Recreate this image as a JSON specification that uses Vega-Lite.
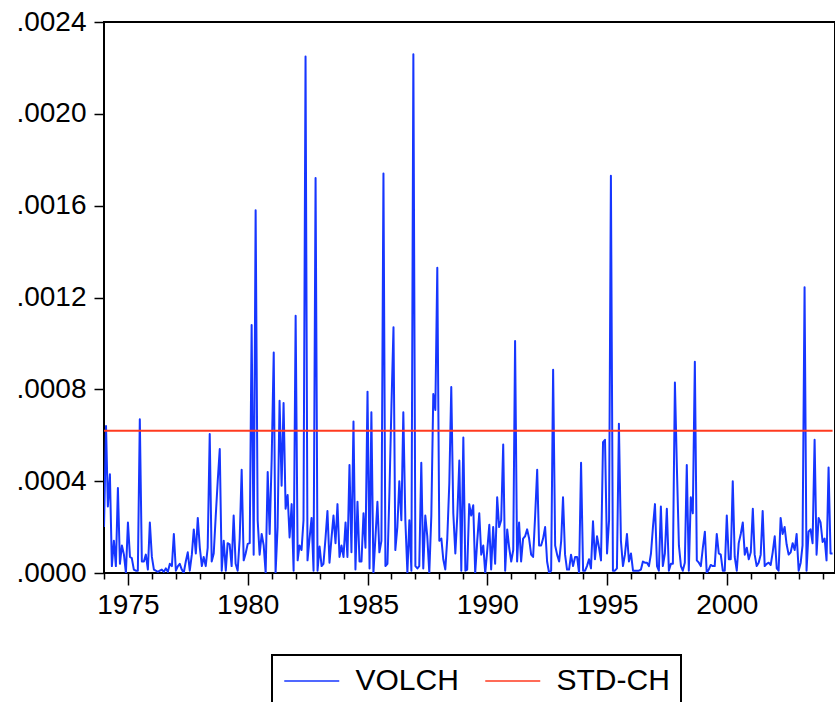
{
 "$schema": "https://vega.github.io/schema/vega-lite/v6.json",
 "width": 731, "height": 551,
 "autosize": {"type": "none"},
 "padding": {"left": 104, "top": 22, "right": 0, "bottom": 129},
 "background": "white",
 "config": {"view": {"stroke": "#000", "strokeWidth": 2}, "font": "Liberation Sans", "axis": {"labelOverlap": false}},
 "datasets": {
  "volch": [
   {"d":"1974-01","v":0.0002},{"d":"1974-02","v":0.00064},{"d":"1974-03","v":0.00029},{"d":"1974-04","v":0.00043},{"d":"1974-05","v":0.00003},{"d":"1974-06","v":0.00014},{"d":"1974-07","v":0.00003},{"d":"1974-08","v":0.00037},{"d":"1974-09","v":0.00004},{"d":"1974-10","v":0.00012},{"d":"1974-11","v":0.00008},{"d":"1974-12","v":0.0},
   {"d":"1975-01","v":0.00022},{"d":"1975-02","v":0.00007},{"d":"1975-03","v":0.000065},{"d":"1975-04","v":0.000015},{"d":"1975-05","v":0.00001},{"d":"1975-06","v":0.00001},{"d":"1975-07","v":0.00067},{"d":"1975-08","v":0.00005},{"d":"1975-09","v":0.00005},{"d":"1975-10","v":0.00008},{"d":"1975-11","v":0.000015},{"d":"1975-12","v":0.00022},
   {"d":"1976-01","v":0.00007},{"d":"1976-02","v":0.000015},{"d":"1976-03","v":0.00001},{"d":"1976-04","v":0.000005},{"d":"1976-05","v":0.00001},{"d":"1976-06","v":0.000015},{"d":"1976-07","v":0.000005},{"d":"1976-08","v":0.00002},{"d":"1976-09","v":0.000005},{"d":"1976-10","v":0.00004},{"d":"1976-11","v":0.00003},{"d":"1976-12","v":0.00017},
   {"d":"1977-01","v":0.00001},{"d":"1977-02","v":0.00003},{"d":"1977-03","v":0.00004},{"d":"1977-04","v":0.000015},{"d":"1977-05","v":0.0},{"d":"1977-06","v":0.00005},{"d":"1977-07","v":0.00009},{"d":"1977-08","v":0.00001},{"d":"1977-09","v":0.00008},{"d":"1977-10","v":0.00019},{"d":"1977-11","v":0.000085},{"d":"1977-12","v":0.00024},
   {"d":"1978-01","v":0.00011},{"d":"1978-02","v":0.00003},{"d":"1978-03","v":0.00007},{"d":"1978-04","v":0.00003},{"d":"1978-05","v":0.00011},{"d":"1978-06","v":0.000605},{"d":"1978-07","v":0.00005},{"d":"1978-08","v":0.000085},{"d":"1978-09","v":0.00025},{"d":"1978-10","v":0.0004},{"d":"1978-11","v":0.00054},{"d":"1978-12","v":0.00001},
   {"d":"1979-01","v":0.00014},{"d":"1979-02","v":0.00001},{"d":"1979-03","v":0.00013},{"d":"1979-04","v":0.000125},{"d":"1979-05","v":0.00003},{"d":"1979-06","v":0.00025},{"d":"1979-07","v":0.00004},{"d":"1979-08","v":0.00001},{"d":"1979-09","v":0.00015},{"d":"1979-10","v":0.00045},{"d":"1979-11","v":0.000055},{"d":"1979-12","v":0.000085},
   {"d":"1980-01","v":0.000127},{"d":"1980-02","v":0.00013},{"d":"1980-03","v":0.00108},{"d":"1980-04","v":0.00008},{"d":"1980-05","v":0.00158},{"d":"1980-06","v":0.00023},{"d":"1980-07","v":0.00008},{"d":"1980-08","v":0.00017},{"d":"1980-09","v":0.00012},{"d":"1980-10","v":0.0},{"d":"1980-11","v":0.00044},{"d":"1980-12","v":0.00017},
   {"d":"1981-01","v":0.0005},{"d":"1981-02","v":0.00096},{"d":"1981-03","v":0.0},{"d":"1981-04","v":0.0002},{"d":"1981-05","v":0.00075},{"d":"1981-06","v":0.00038},{"d":"1981-07","v":0.00074},{"d":"1981-08","v":0.00028},{"d":"1981-09","v":0.00034},{"d":"1981-10","v":0.000155},{"d":"1981-11","v":0.0003},{"d":"1981-12","v":0.00001},
   {"d":"1982-01","v":0.00112},{"d":"1982-02","v":0.000055},{"d":"1982-03","v":0.00012},{"d":"1982-04","v":0.0001},{"d":"1982-05","v":0.00023},{"d":"1982-06","v":0.00225},{"d":"1982-07","v":0.000055},{"d":"1982-08","v":0.00015},{"d":"1982-09","v":0.00024},{"d":"1982-10","v":0.00001},{"d":"1982-11","v":0.00172},{"d":"1982-12","v":0.00001},
   {"d":"1983-01","v":0.000115},{"d":"1983-02","v":0.00003},{"d":"1983-03","v":0.00004},{"d":"1983-04","v":0.00015},{"d":"1983-05","v":0.00027},{"d":"1983-06","v":0.000045},{"d":"1983-07","v":0.00015},{"d":"1983-08","v":0.00025},{"d":"1983-09","v":0.00013},{"d":"1983-10","v":0.0003},{"d":"1983-11","v":0.00007},{"d":"1983-12","v":0.00012},
   {"d":"1984-01","v":0.00007},{"d":"1984-02","v":0.00022},{"d":"1984-03","v":0.00007},{"d":"1984-04","v":0.00047},{"d":"1984-05","v":0.00009},{"d":"1984-06","v":0.00066},{"d":"1984-07","v":0.000015},{"d":"1984-08","v":0.00031},{"d":"1984-09","v":0.00005},{"d":"1984-10","v":0.00005},{"d":"1984-11","v":0.00026},{"d":"1984-12","v":0.00011},
   {"d":"1985-01","v":0.00079},{"d":"1985-02","v":0.00002},{"d":"1985-03","v":0.0007},{"d":"1985-04","v":0.0},{"d":"1985-05","v":0.00015},{"d":"1985-06","v":0.00031},{"d":"1985-07","v":0.00009},{"d":"1985-08","v":0.00014},{"d":"1985-09","v":0.00174},{"d":"1985-10","v":0.00003},{"d":"1985-11","v":0.00004},{"d":"1985-12","v":0.00035},
   {"d":"1986-01","v":0.00073},{"d":"1986-02","v":0.00107},{"d":"1986-03","v":0.0001},{"d":"1986-04","v":0.0002},{"d":"1986-05","v":0.0004},{"d":"1986-06","v":0.00023},{"d":"1986-07","v":0.0007},{"d":"1986-08","v":0.00023},{"d":"1986-09","v":0.0},{"d":"1986-10","v":0.00023},{"d":"1986-11","v":0.00001},{"d":"1986-12","v":0.00226},
   {"d":"1987-01","v":0.00003},{"d":"1987-02","v":0.00002},{"d":"1987-03","v":0.00003},{"d":"1987-04","v":0.00048},{"d":"1987-05","v":0.00002},{"d":"1987-06","v":0.00025},{"d":"1987-07","v":0.00016},{"d":"1987-08","v":0.0},{"d":"1987-09","v":0.00025},{"d":"1987-10","v":0.00078},{"d":"1987-11","v":0.00071},{"d":"1987-12","v":0.00133},
   {"d":"1988-01","v":0.00014},{"d":"1988-02","v":0.00015},{"d":"1988-03","v":0.00006},{"d":"1988-04","v":0.000015},{"d":"1988-05","v":0.00015},{"d":"1988-06","v":0.00039},{"d":"1988-07","v":0.00081},{"d":"1988-08","v":0.00026},{"d":"1988-09","v":0.000085},{"d":"1988-10","v":0.00025},{"d":"1988-11","v":0.00049},{"d":"1988-12","v":0.00001},
   {"d":"1989-01","v":0.00059},{"d":"1989-02","v":0.00001},{"d":"1989-03","v":0.000015},{"d":"1989-04","v":0.0003},{"d":"1989-05","v":0.00025},{"d":"1989-06","v":0.000295},{"d":"1989-07","v":0.0},{"d":"1989-08","v":0.00014},{"d":"1989-09","v":0.00026},{"d":"1989-10","v":0.00008},{"d":"1989-11","v":0.00012},{"d":"1989-12","v":0.0},
   {"d":"1990-01","v":0.0001},{"d":"1990-02","v":0.00021},{"d":"1990-03","v":0.000015},{"d":"1990-04","v":0.0002},{"d":"1990-05","v":0.00004},{"d":"1990-06","v":0.00033},{"d":"1990-07","v":0.0002},{"d":"1990-08","v":0.00023},{"d":"1990-09","v":0.00056},{"d":"1990-10","v":0.00001},{"d":"1990-11","v":0.00019},{"d":"1990-12","v":0.00011},
   {"d":"1991-01","v":0.00005},{"d":"1991-02","v":0.0001},{"d":"1991-03","v":0.00101},{"d":"1991-04","v":0.00005},{"d":"1991-05","v":0.00022},{"d":"1991-06","v":0.00005},{"d":"1991-07","v":0.00015},{"d":"1991-08","v":0.00016},{"d":"1991-09","v":0.00019},{"d":"1991-10","v":0.00015},{"d":"1991-11","v":0.00008},{"d":"1991-12","v":0.00007},
   {"d":"1992-01","v":0.00025},{"d":"1992-02","v":0.00045},{"d":"1992-03","v":0.00012},{"d":"1992-04","v":0.00012},{"d":"1992-05","v":0.00015},{"d":"1992-06","v":0.0002},{"d":"1992-07","v":0.00005},{"d":"1992-08","v":0.0},{"d":"1992-09","v":0.00001},{"d":"1992-10","v":0.000885},{"d":"1992-11","v":0.00012},{"d":"1992-12","v":0.00008},
   {"d":"1993-01","v":0.00005},{"d":"1993-02","v":0.00014},{"d":"1993-03","v":0.00033},{"d":"1993-04","v":0.00008},{"d":"1993-05","v":0.000015},{"d":"1993-06","v":0.000015},{"d":"1993-07","v":0.00008},{"d":"1993-08","v":0.00003},{"d":"1993-09","v":0.00007},{"d":"1993-10","v":0.00007},{"d":"1993-11","v":0.0},{"d":"1993-12","v":0.00048},
   {"d":"1994-01","v":0.00001},{"d":"1994-02","v":0.00001},{"d":"1994-03","v":0.00003},{"d":"1994-04","v":0.00006},{"d":"1994-05","v":0.00002},{"d":"1994-06","v":0.000225},{"d":"1994-07","v":0.00006},{"d":"1994-08","v":0.00016},{"d":"1994-09","v":0.00011},{"d":"1994-10","v":0.000055},{"d":"1994-11","v":0.00057},{"d":"1994-12","v":0.00058},
   {"d":"1995-01","v":0.000085},{"d":"1995-02","v":0.00023},{"d":"1995-03","v":0.00173},{"d":"1995-04","v":0.00001},{"d":"1995-05","v":0.00001},{"d":"1995-06","v":0.00002},{"d":"1995-07","v":0.00065},{"d":"1995-08","v":0.00014},{"d":"1995-09","v":0.00003},{"d":"1995-10","v":0.00008},{"d":"1995-11","v":0.00017},{"d":"1995-12","v":0.00005},
   {"d":"1996-01","v":0.000085},{"d":"1996-02","v":0.00001},{"d":"1996-03","v":0.00001},{"d":"1996-04","v":0.00001},{"d":"1996-05","v":0.00001},{"d":"1996-06","v":0.000015},{"d":"1996-07","v":0.00005},{"d":"1996-08","v":0.000045},{"d":"1996-09","v":0.000045},{"d":"1996-10","v":0.00003},{"d":"1996-11","v":0.000085},{"d":"1996-12","v":0.0002},
   {"d":"1997-01","v":0.0003},{"d":"1997-02","v":0.00003},{"d":"1997-03","v":0.00001},{"d":"1997-04","v":0.00029},{"d":"1997-05","v":0.00003},{"d":"1997-06","v":0.000085},{"d":"1997-07","v":0.00028},{"d":"1997-08","v":0.00001},{"d":"1997-09","v":0.00004},{"d":"1997-10","v":0.00004},{"d":"1997-11","v":0.00083},{"d":"1997-12","v":0.00046},
   {"d":"1998-01","v":0.00012},{"d":"1998-02","v":0.00003},{"d":"1998-03","v":0.00001},{"d":"1998-04","v":0.000045},{"d":"1998-05","v":0.00047},{"d":"1998-06","v":0.00001},{"d":"1998-07","v":0.00033},{"d":"1998-08","v":0.00026},{"d":"1998-09","v":0.00092},{"d":"1998-10","v":0.000055},{"d":"1998-11","v":0.000045},{"d":"1998-12","v":0.00003},
   {"d":"1999-01","v":0.00011},{"d":"1999-02","v":0.00018},{"d":"1999-03","v":0.0},{"d":"1999-04","v":0.000015},{"d":"1999-05","v":0.000035},{"d":"1999-06","v":0.00003},{"d":"1999-07","v":0.00003},{"d":"1999-08","v":0.00017},{"d":"1999-09","v":0.000085},{"d":"1999-10","v":0.00008},{"d":"1999-11","v":0.00001},{"d":"1999-12","v":0.00001},
   {"d":"2000-01","v":0.00025},{"d":"2000-02","v":0.00006},{"d":"2000-03","v":0.00006},{"d":"2000-04","v":0.0004},{"d":"2000-05","v":0.00007},{"d":"2000-06","v":0.00001},{"d":"2000-07","v":0.00013},{"d":"2000-08","v":0.00017},{"d":"2000-09","v":0.00022},{"d":"2000-10","v":0.00008},{"d":"2000-11","v":0.00011},{"d":"2000-12","v":0.00006},
   {"d":"2001-01","v":0.00009},{"d":"2001-02","v":0.00028},{"d":"2001-03","v":0.00008},{"d":"2001-04","v":0.00003},{"d":"2001-05","v":0.000045},{"d":"2001-06","v":0.00008},{"d":"2001-07","v":0.00027},{"d":"2001-08","v":0.00003},{"d":"2001-09","v":0.00004},{"d":"2001-10","v":0.000045},{"d":"2001-11","v":0.000035},{"d":"2001-12","v":0.00009},
   {"d":"2002-01","v":0.00016},{"d":"2002-02","v":0.00002},{"d":"2002-03","v":0.00001},{"d":"2002-04","v":0.00024},{"d":"2002-05","v":0.00017},{"d":"2002-06","v":0.0002},{"d":"2002-07","v":0.000125},{"d":"2002-08","v":0.00008},{"d":"2002-09","v":0.00009},{"d":"2002-10","v":0.00013},{"d":"2002-11","v":0.0001},{"d":"2002-12","v":0.00017},
   {"d":"2003-01","v":0.00001},{"d":"2003-02","v":0.000045},{"d":"2003-03","v":0.00012},{"d":"2003-04","v":0.001245},{"d":"2003-05","v":0.00001},{"d":"2003-06","v":0.00018},{"d":"2003-07","v":0.00019},{"d":"2003-08","v":0.00013},{"d":"2003-09","v":0.00058},{"d":"2003-10","v":0.00008},{"d":"2003-11","v":0.00024},{"d":"2003-12","v":0.00022},
   {"d":"2004-01","v":0.000135},{"d":"2004-02","v":0.00015},{"d":"2004-03","v":0.000055},{"d":"2004-04","v":0.00046},{"d":"2004-05","v":0.000085},{"d":"2004-06","v":0.000085}
  ],
  "std": [{"d":"1974-01","v":0.00062},{"d":"2004-06","v":0.00062}]
 },
 "encoding": {
  "x": {"field": "d", "type": "temporal",
   "scale": {"type": "utc", "domain": [{"year": 1974, "month": 1, "date": 1, "utc": true}, {"year": 2004, "month": 7, "date": 8, "utc": true}]},
   "axis": {"title": null, "grid": false, "domain": false,
    "values": [{"year":1974,"utc":true},{"year":1975,"utc":true},{"year":1976,"utc":true},{"year":1977,"utc":true},{"year":1978,"utc":true},{"year":1979,"utc":true},{"year":1980,"utc":true},{"year":1981,"utc":true},{"year":1982,"utc":true},{"year":1983,"utc":true},{"year":1984,"utc":true},{"year":1985,"utc":true},{"year":1986,"utc":true},{"year":1987,"utc":true},{"year":1988,"utc":true},{"year":1989,"utc":true},{"year":1990,"utc":true},{"year":1991,"utc":true},{"year":1992,"utc":true},{"year":1993,"utc":true},{"year":1994,"utc":true},{"year":1995,"utc":true},{"year":1996,"utc":true},{"year":1997,"utc":true},{"year":1998,"utc":true},{"year":1999,"utc":true},{"year":2000,"utc":true},{"year":2001,"utc":true},{"year":2002,"utc":true},{"year":2003,"utc":true},{"year":2004,"utc":true}],
    "labelExpr": "utcyear(datum.value) % 5 == 0 ? utcFormat(datum.value, '%Y') : ''",
    "tickSize": {"condition": {"test": "utcyear(datum.value) % 5 == 0", "value": 12}, "value": 6},
    "tickColor": "#000", "tickWidth": 1.5,
    "labelFontSize": 28, "labelColor": "#000", "labelPadding": 6, "labelFlush": false, "labelOverlap": false, "labelBound": false}
  },
  "y": {"field": "v", "type": "quantitative",
   "scale": {"domain": [0, 0.0024], "nice": false, "zero": true},
   "axis": {"title": null, "grid": false, "domain": false,
    "values": [0, 0.0004, 0.0008, 0.0012, 0.0016, 0.002, 0.0024],
    "labelExpr": "substring(format(datum.value, '.4f'), 1)",
    "tickSize": 10, "tickColor": "#000", "tickWidth": 1.5,
    "labelFontSize": 28, "labelColor": "#000", "labelPadding": 8}
  }
 },
 "layer": [
  {
   "data": {"name": "volch"},
   "mark": {"type": "line", "strokeWidth": 2, "strokeJoin": "round", "clip": true},
   "encoding": {
    "color": {"datum": "VOLCH", "type": "nominal",
     "scale": {"domain": ["VOLCH", "STD-CH"], "range": ["#1636ff", "#ff3a1f"]},
     "legend": {"orient": "none", "legendX": 168, "legendY": 633, "direction": "horizontal", "title": null,
      "symbolType": "M-2,0H2", "symbolSize": 756, "symbolOffset": 13.75, "symbolStrokeWidth": 1.5,
      "labelFontSize": 30, "labelColor": "#000", "labelOffset": 28.75, "columnPadding": 23,
      "padding": 11, "strokeColor": "#000",
      "encode": {"legend": {"update": {"strokeWidth": {"value": 2}}}}}
    }
   }
  },
  {
   "data": {"name": "std"},
   "mark": {"type": "line", "strokeWidth": 2},
   "encoding": {
    "color": {"datum": "STD-CH", "type": "nominal"}
   }
  }
 ]
}
